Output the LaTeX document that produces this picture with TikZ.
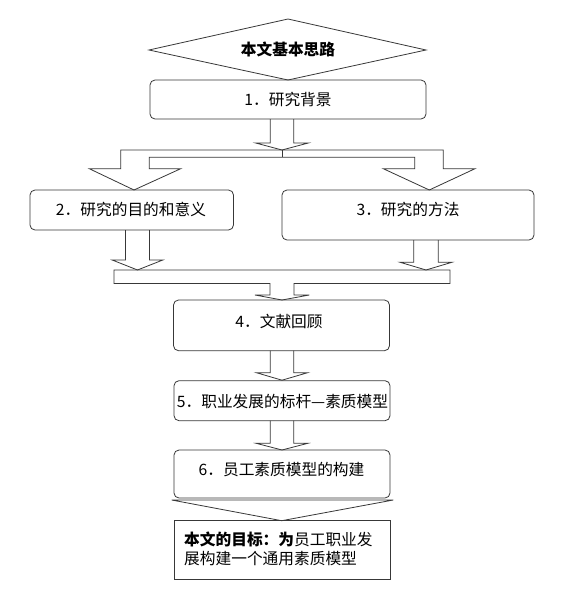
\documentclass[tikz,border=0pt]{standalone}
\usepackage{fontspec}
\setmainfont{Noto Sans CJK SC}
\usetikzlibrary{calc}
\newcommand\blkarrow[5]{% #1 top point, #2 base offset, #3 tip offset, #4 shaft half, #5 head half
  \draw[barrow] ($(#1)+(-#4,0)$) -- ++(0,#2) -- ++(#4-#5,0) -- ($(#1)+(0,#3)$)
     -- ($(#1)+(#5,#2)$) -- ++(#4-#5,0) -- ++(0,-#2);}
\begin{document}
\begin{tikzpicture}[x=1pt,y=-1pt,
  ln/.style={draw=black!78, line width=0.8pt},
  rbox/.style={ln, rounded corners=5pt, inner sep=0pt},
  sbox/.style={ln, inner sep=0pt},
  lbl/.style={font=\fontsize{15.7}{18}\selectfont, inner sep=0pt, text=black},
  barrow/.style={ln, line join=miter}]
\useasboundingbox (0,0) rectangle (565,592);
\fill[white] (0,0) rectangle (565,592);

% title diamond
\coordinate (dl) at (149,50);
\coordinate (dt) at (288,19);
\coordinate (dr) at (426,50);
\coordinate (db) at (288,80);
\draw[ln] (dl) -- (dt) -- (dr) -- (db) -- cycle;
\node[lbl, font=\fontsize{15.7}{18}\selectfont\bfseries] (title) at (288,49) {本文基本思路};

% box 1
\node[rbox, minimum width=276pt, minimum height=39pt] (b1) at (288,99.5) {};
\node[lbl] (t1) at (288,100) {1．研究背景};

% arrow from box 1 into split bar
\coordinate (a1) at (282,119);
\blkarrow{a1}{24}{31}{11.7}{26.3}

% split bar with two arrows
\coordinate (sj1) at (282,150);
\coordinate (sj2) at (282,157.3);
\draw[barrow] (120.7,150) -- (443.3,150) -- (443.3,168.7) -- (475,168.7) -- (429.3,190)
  -- (383.3,168.7) -- (414.7,168.7) -- (414.7,157.3) -- (149.3,157.3) -- (149.3,168.7)
  -- (180.7,168.7) -- (134,190) -- (89.3,168.7) -- (120.7,168.7) -- cycle;
\draw[ln] (sj1) -- (sj2);

% box 2 and box 3
\node[rbox, minimum width=203.5pt, minimum height=40pt] (b2) at (131.75,210) {};
\node[lbl] (t2) at (131,209.5) {2．研究的目的和意义};
\node[rbox, minimum width=252pt, minimum height=50pt] (b3) at (408,215) {};
\node[lbl] (t3) at (408,209.5) {3．研究的方法};

% arrows into merge bar
\coordinate (a2) at (137.5,230);
\blkarrow{a2}{30}{40}{12}{25.3}
\coordinate (a3) at (426,240);
\blkarrow{a3}{22.3}{30}{12.2}{25.8}

% merge bar with arrow to box 4
\draw[barrow] (114,270) -- (450,270) -- (450,283.5) -- (294,283.5) -- (294,295) -- (309.3,295)
  -- (282,300) -- (255,295) -- (270,295) -- (270,283.5) -- (114,283.5) -- cycle;

% box 4
\node[rbox, minimum width=216pt, minimum height=50.7pt] (b4) at (281.5,325.35) {};
\node[lbl] (t4) at (279,321.7) {4．文献回顾};

\coordinate (a4) at (282,350.7);
\blkarrow{a4}{22}{29.5}{11.7}{25.6}

% box 5
\node[rbox, minimum width=216pt, minimum height=40pt] (b5) at (282,400.7) {};
\node[lbl] (t5) at (282.5,401.5) {5．职业发展的标杆—素质模型};

\coordinate (a5) at (282,420.7);
\blkarrow{a5}{22.6}{29.3}{11.7}{25.8}

% box 6
\node[rbox, minimum width=216pt, minimum height=48pt] (b6) at (282,474) {};
\node[lbl] (t6) at (281.5,469.3) {6．员工素质模型的构建};

% wide arrow head from box 6 to goal box
\coordinate (hl) at (171.7,500);
\coordinate (hr) at (393.3,500);
\coordinate (ht) at (281.7,520.7);
\draw[barrow] (hl) -- (hr) -- (ht) -- cycle;

% goal box
\node[sbox, minimum width=216pt, minimum height=58.6pt] (goal) at (282,550) {};
\node[lbl, anchor=west, align=left, font=\fontsize{15.7}{19}\selectfont] (tg) at (184,548.8)
  {\textbf{本文的目标：为}员工职业发\\展构建一个通用素质模型};
\end{tikzpicture}
\end{document}
